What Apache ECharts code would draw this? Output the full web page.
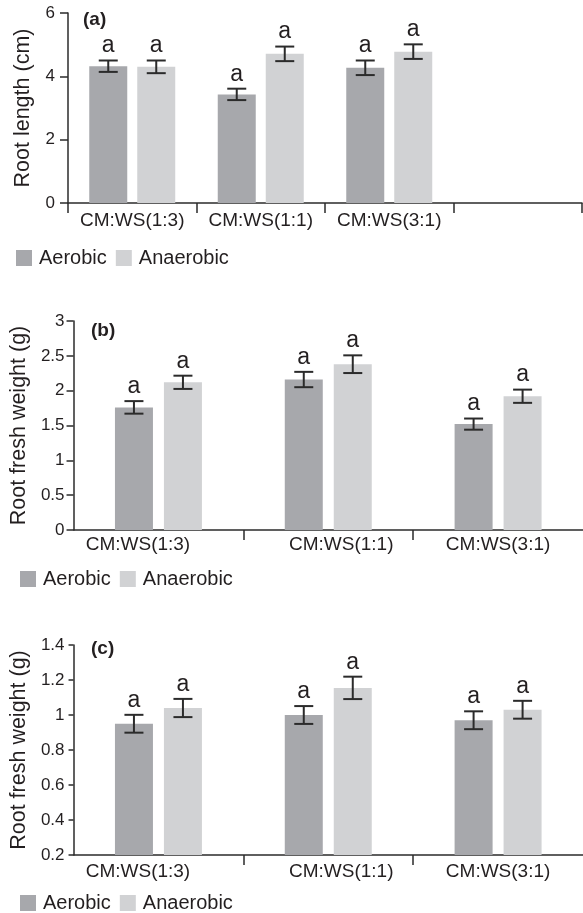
<!DOCTYPE html>
<html>
<head>
<meta charset="utf-8">
<script src="https://cdn.jsdelivr.net/npm/echarts@6/dist/echarts.min.js"></script>
<style>
html,body{margin:0;padding:0;background:#fff;}
#chart{width:583px;height:913px;}
</style>
</head>
<body>
<div id="chart"></div>
<script>
// ---- data ----
const categoriesA = ['CM:WS(1:3)', 'CM:WS(1:1)', 'CM:WS(3:1)', ''];
const categoriesBC = ['CM:WS(1:3)', 'CM:WS(1:1)', 'CM:WS(3:1)'];
const seriesNames = ['Aerobic', 'Anaerobic'];

const rootLengthAerobic = [4.32, 3.43, 4.27];
const rootLengthAerobicErr = [0.18, 0.18, 0.23];
const rootLengthAnaerobic = [4.30, 4.71, 4.78];
const rootLengthAnaerobicErr = [0.20, 0.23, 0.23];

const freshWeightBAerobic = [1.76, 2.16, 1.52];
const freshWeightBAerobicErr = [0.09, 0.11, 0.08];
const freshWeightBAnaerobic = [2.12, 2.38, 1.92];
const freshWeightBAnaerobicErr = [0.095, 0.127, 0.095];

const freshWeightCAerobic = [0.95, 1.00, 0.97];
const freshWeightCAerobicErr = [0.051, 0.051, 0.051];
const freshWeightCAnaerobic = [1.04, 1.155, 1.03];
const freshWeightCAnaerobicErr = [0.052, 0.064, 0.051];

const lettersA_aer = ['a', 'a', 'a'];
const lettersA_ana = ['a', 'a', 'a'];
const lettersB_aer = ['a', 'a', 'a'];
const lettersB_ana = ['a', 'a', 'a'];
const lettersC_aer = ['a', 'a', 'a'];
const lettersC_ana = ['a', 'a', 'a'];

const yTicksA = {min: 0, max: 6, interval: 2};
const yTicksB = {min: 0, max: 3, interval: 0.5};
const yTicksC = {min: 0.2, max: 1.4, interval: 0.2};

// ---- style ----
const FONT = '"Liberation Sans", Arial, sans-serif';
const TXT = '#231f20';
const AX = '#2b2b2b';
const C_AER = '#a7a8ac';
const C_ANA = '#d1d2d4';

function errRender(sign, barW, gap, letters) {
  return function (params, api) {
    const i = api.value(0), v = api.value(1), e = api.value(2);
    const hi = api.coord([i, v + e]);
    const lo = api.coord([i, v - e]);
    const x = hi[0] + sign * (barW + gap) / 2;
    const cap = 9.5;
    const st = {stroke: '#2b2b2b', lineWidth: 2};
    return {
      type: 'group',
      children: [
        {type: 'line', shape: {x1: x, y1: hi[1], x2: x, y2: lo[1]}, style: st},
        {type: 'line', shape: {x1: x - cap, y1: hi[1], x2: x + cap, y2: hi[1]}, style: st},
        {type: 'line', shape: {x1: x - cap, y1: lo[1], x2: x + cap, y2: lo[1]}, style: st},
        {type: 'text', style: {text: letters[params.dataIndex], x: x, y: hi[1] - 3,
          align: 'center', verticalAlign: 'bottom', fontSize: 23, fontFamily: FONT, fill: TXT}}
      ]
    };
  };
}

function zip(vals, errs) { return vals.map((v, i) => [i, v, errs[i]]); }

function makeSeries(gi, aer, aerErr, ana, anaErr, lAer, lAna, barW, gap) {
  const gapPct = (gap / barW * 100).toFixed(1) + '%';
  return [
    {type: 'bar', name: 'Aerobic', xAxisIndex: gi, yAxisIndex: gi, data: aer,
      barWidth: barW, barGap: gapPct, itemStyle: {color: C_AER}, z: 2},
    {type: 'bar', name: 'Anaerobic', xAxisIndex: gi, yAxisIndex: gi, data: ana,
      barWidth: barW, barGap: gapPct, itemStyle: {color: C_ANA}, z: 2},
    {type: 'custom', name: 'errAer' + gi, xAxisIndex: gi, yAxisIndex: gi, data: zip(aer, aerErr),
      renderItem: errRender(-1, barW, gap, lAer), z: 5, clip: false, silent: true},
    {type: 'custom', name: 'errAna' + gi, xAxisIndex: gi, yAxisIndex: gi, data: zip(ana, anaErr),
      renderItem: errRender(1, barW, gap, lAna), z: 5, clip: false, silent: true}
  ];
}

// label nudges (left/right padding in px) for the lower two panels
const labelPadBC = [[0, 41, 0, 0], [0, 0, 0, 26], [0, 0, 0, 0]];

function xAxisCfg(gi, cats, hideFirstTick, margin, pads) {
  const base = {color: TXT, fontSize: 19, fontFamily: FONT};
  const label = Object.assign({margin: margin, interval: 0}, base);
  if (pads) {
    const rich = {};
    pads.forEach((p, k) => { rich['s' + k] = Object.assign({padding: p}, base); });
    label.rich = rich;
    label.formatter = function (value, index) { return '{s' + index + '|' + value + '}'; };
  }
  return {
    type: 'category', gridIndex: gi, data: cats,
    axisLine: {lineStyle: {color: AX, width: 1.5}},
    axisTick: {show: true, length: 10, lineStyle: {color: AX, width: 1.5},
      interval: hideFirstTick ? function (i) { return i > 0; } : 0},
    axisLabel: label
  };
}

function yAxisCfg(gi, t, name, nameGap, tickLen, margin) {
  return {
    type: 'value', gridIndex: gi, min: t.min, max: t.max, interval: t.interval,
    name: name, nameLocation: 'middle', nameGap: nameGap,
    nameTextStyle: {color: TXT, fontSize: 21.5, fontFamily: FONT},
    axisLine: {show: true, lineStyle: {color: AX, width: 1.5}},
    axisTick: {show: true, length: tickLen, lineStyle: {color: AX, width: 1.5}},
    axisLabel: {color: TXT, fontSize: 17, fontFamily: FONT, margin: margin},
    splitLine: {show: false}
  };
}

function legendCfg(left, top) {
  return {
    data: seriesNames, left: left, top: top, itemWidth: 16, itemHeight: 16, itemGap: 9,
    icon: 'rect', padding: 0, selectedMode: false,
    textStyle: {color: TXT, fontSize: 20, fontFamily: FONT, padding: [0, 0, 0, 2]}
  };
}

function titleCfg(text, left, top) {
  return {text: text, left: left, top: top, padding: 0,
    textStyle: {color: TXT, fontSize: 19, fontWeight: 'bold', fontFamily: FONT}};
}

const chart = echarts.init(document.getElementById('chart'), null, {renderer: 'canvas'});
chart.setOption({
  animation: false,
  backgroundColor: '#fff',
  title: [titleCfg('(a)', 83, 10), titleCfg('(b)', 91, 321), titleCfg('(c)', 91, 639)],
  legend: [legendCfg(16, 248), legendCfg(20, 569), legendCfg(20, 893)],
  grid: [
    {left: 68, right: 1, top: 13, height: 190},
    {left: 72, right: -4, top: 321, height: 209},
    {left: 72, right: -4, top: 645, height: 210}
  ],
  xAxis: [
    xAxisCfg(0, categoriesA, false, 8, null),
    xAxisCfg(1, categoriesBC, true, 5, labelPadBC),
    xAxisCfg(2, categoriesBC, true, 7, labelPadBC)
  ],
  yAxis: [
    yAxisCfg(0, yTicksA, 'Root length (cm)', 34, 8, 13),
    yAxisCfg(1, yTicksB, 'Root fresh weight (g)', 34, 7, 9),
    yAxisCfg(2, yTicksC, 'Root fresh weight (g)', 34, 5, 9)
  ],
  series: [].concat(
    makeSeries(0, rootLengthAerobic, rootLengthAerobicErr, rootLengthAnaerobic, rootLengthAnaerobicErr, lettersA_aer, lettersA_ana, 38, 10),
    makeSeries(1, freshWeightBAerobic, freshWeightBAerobicErr, freshWeightBAnaerobic, freshWeightBAnaerobicErr, lettersB_aer, lettersB_ana, 38, 11),
    makeSeries(2, freshWeightCAerobic, freshWeightCAerobicErr, freshWeightCAnaerobic, freshWeightCAnaerobicErr, lettersC_aer, lettersC_ana, 38, 11)
  )
});
</script>
</body>
</html>
